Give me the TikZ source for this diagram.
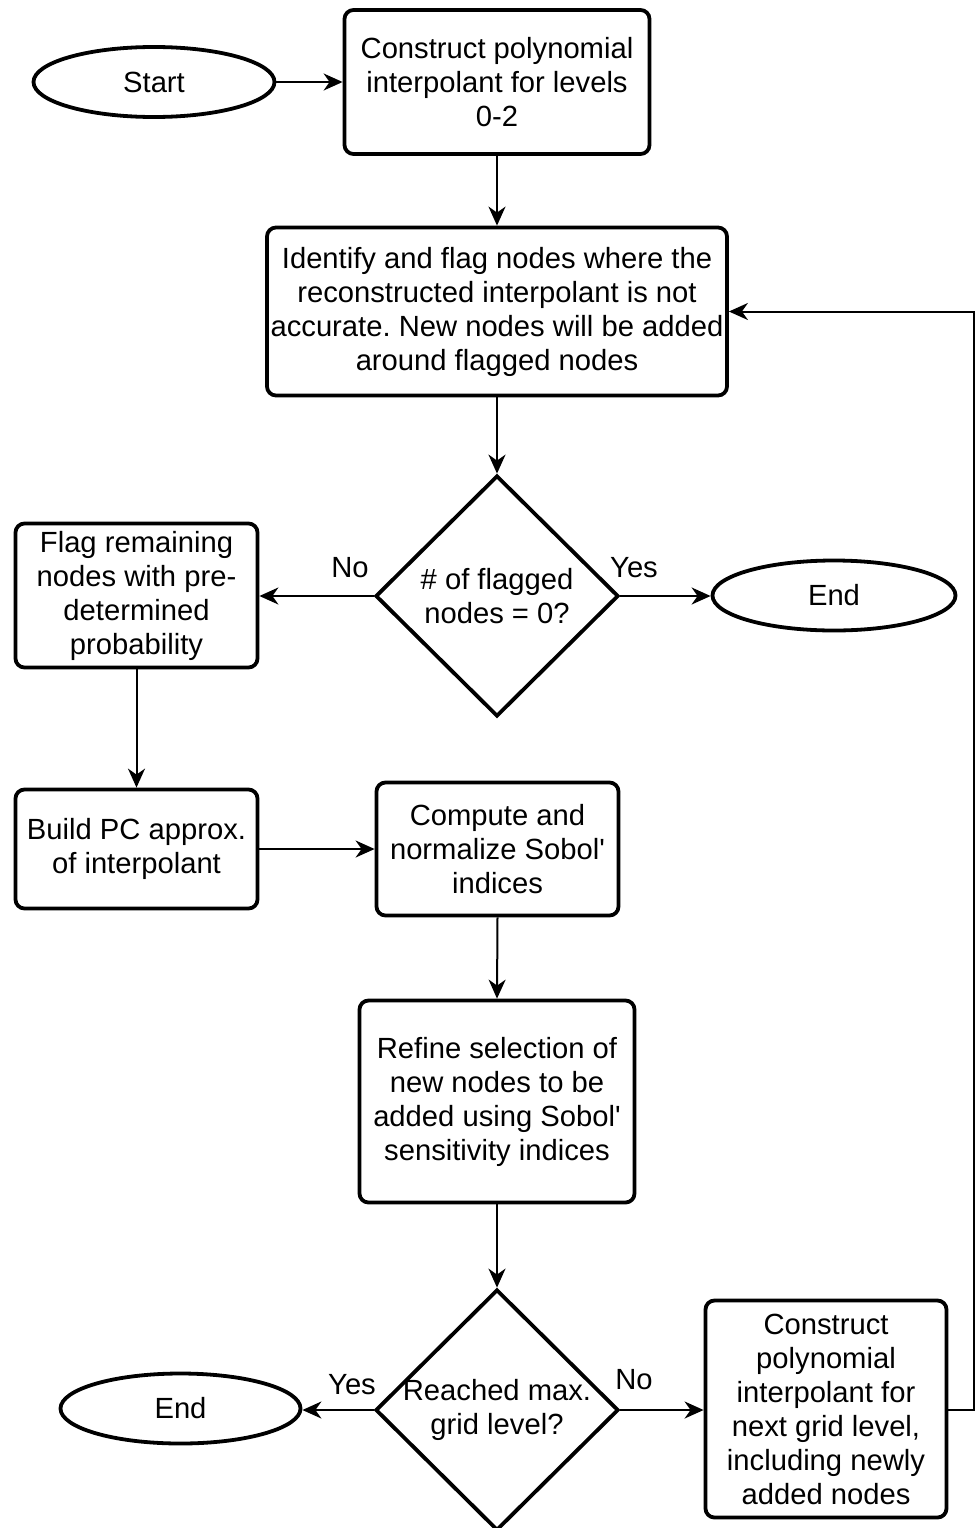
\documentclass[tikz,border=0pt]{standalone}
\usepackage{fontspec}
\setmainfont{Liberation Sans}
\usetikzlibrary{arrows.meta,shapes.geometric}
\frenchspacing
\begin{document}
\begin{tikzpicture}[x=1pt,y=-1pt,
  every node/.style={font=\fontsize{29.2}{34}\selectfont\frenchspacing, align=center, inner sep=0pt},
  procbox/.style={draw, line width=3.8pt, rounded corners=9pt},
  term/.style={draw, ellipse, line width=3.8pt},
  decis/.style={draw, diamond, line width=3.8pt, minimum width=243pt, minimum height=241pt},
  conn/.style={line width=2pt, -{Stealth[length=19pt,width=17pt,inset=6pt]}},
  lbl/.style={font=\fontsize{29.2}{34}\selectfont}
]
\useasboundingbox (0,0) rectangle (979,1528);

\node[term, minimum width=241pt, minimum height=70pt] (start) at (154,82) {Start};
\node[procbox, minimum width=305pt, minimum height=144pt] (b1) at (497,82) {Construct polynomial\\interpolant for levels\\0-2};
\node[procbox, minimum width=460pt, minimum height=168pt] (b2) at (497,311.5) {Identify and flag nodes where the\\reconstructed interpolant is not\\accurate. New nodes will be added\\around flagged nodes};
\node[decis] (d1) at (497,596) {};
\node at (d1.center) {\# of flagged\\nodes = 0?};
\node[procbox, minimum width=242pt, minimum height=144pt] (flag) at (136.5,595.5) {Flag remaining\\nodes with pre-\\determined\\probability};
\node[term, minimum width=243pt, minimum height=70pt] (end1) at (834,595.5) {End};
\node[procbox, minimum width=242pt, minimum height=119pt] (build) at (136.5,849) {Build PC approx.\\of interpolant};
\node[procbox, minimum width=242pt, minimum height=133pt] (comp) at (497.5,849) {Compute and\\normalize Sobol\textquotesingle\\indices};
\node[procbox, minimum width=275pt, minimum height=202pt] (ref) at (497,1101.5) {Refine selection of\\new nodes to be\\added using Sobol\textquotesingle\\sensitivity indices};
\node[decis] (d2) at (497,1410) {};
\node at (d2.center) {Reached max.\\grid level?};
\node[term, minimum width=240pt, minimum height=70pt] (end2) at (180.5,1408.5) {End};
\node[procbox, minimum width=241pt, minimum height=217pt] (c2) at (826,1409) {Construct\\polynomial\\interpolant for\\next grid level,\\including newly\\added nodes};
\coordinate (loopA) at (974,1410);
\coordinate (loopB) at (974,311.5);

\draw[conn] (start.east) -- (b1.west);
\draw[conn] (b1.south) -- (b2.north);
\draw[conn] (b2.south) -- (d1.north);
\draw[conn] (d1.west) -- (flag.east |- d1.west);
\draw[conn] (d1.east) -- (end1.west |- d1.east);
\draw[conn] (flag.south) -- (build.north);
\draw[conn] (build.east) -- (comp.west |- build.east);
\draw[conn] (comp.south) -- (ref.north);
\draw[conn] (ref.south) -- (d2.north);
\draw[conn] (d2.west) -- (end2.east |- d2.west);
\draw[conn] (d2.east) -- (c2.west |- d2.east);
\draw[conn] (c2.east |- loopA) -- (loopA) -- (loopB) -- (b2.east);

\node[lbl] (no1) at (350,568) {No};
\node[lbl] (yes1) at (634,568) {Yes};
\node[lbl] (yes2) at (352,1385) {Yes};
\node[lbl] (no2) at (634,1380) {No};
\end{tikzpicture}
\end{document}
